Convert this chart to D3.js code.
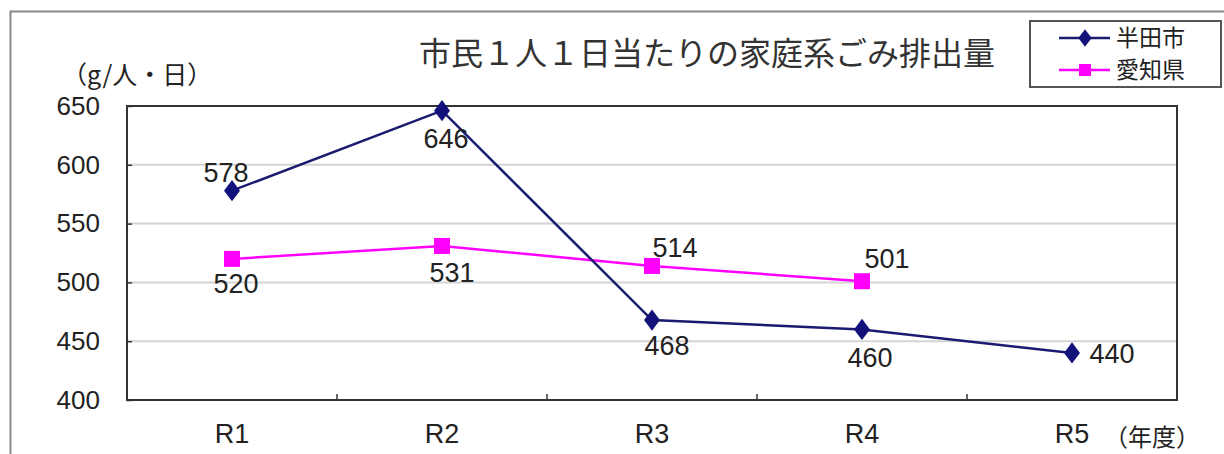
<!DOCTYPE html>
<html>
<head>
<meta charset="utf-8">
<script src="https://cdn.jsdelivr.net/npm/d3@7"></script>
<style>
  body { margin: 0; background: #fff; }
  text { font-family: "Liberation Sans", Arial, sans-serif; }
  .jp { font-family: "Noto Sans CJK JP", sans-serif; }
</style>
</head>
<body>
<div id="chart"></div>
<script>
    var categories = ['R1', 'R2', 'R3', 'R4', 'R5'];
    var handaValues = [578, 646, 468, 460, 440];
    var aichiValues = [520, 531, 514, 501, null];
    var yTicks = [400, 450, 500, 550, 600, 650];
    var seriesNames = ['半田市', '愛知県'];

    var width = 1224,
        height = 454,
        plot = {left: 127, right: 1177, top: 106, bottom: 400};

    var svg = d3.select('#chart').append('svg')
        .attr('width', width).attr('height', height);

    // outer frame
    svg.append('rect')
        .attr('x', 10.5).attr('y', 11.5)
        .attr('width', 1230).attr('height', 460)
        .attr('fill', 'none').attr('stroke', '#888').attr('stroke-width', 2);

    var x = d3.scaleBand().domain(categories).range([plot.left, plot.right]);
    var y = d3.scaleLinear().domain([400, 650]).range([plot.bottom, plot.top]);

    // gridlines
    svg.append('g').selectAll('line').data(yTicks.slice(1, -1)).enter().append('line')
        .attr('x1', plot.left).attr('x2', plot.right)
        .attr('y1', function (d) { return y(d); }).attr('y2', function (d) { return y(d); })
        .attr('stroke', '#d4d4d4').attr('stroke-width', 2);

    // plot border
    svg.append('rect')
        .attr('x', plot.left).attr('y', plot.top)
        .attr('width', plot.right - plot.left).attr('height', plot.bottom - plot.top)
        .attr('fill', 'none').attr('stroke', '#333').attr('stroke-width', 2);

    // y axis labels
    var yAxis = d3.axisLeft(y).tickValues(yTicks).tickSize(0).tickPadding(27);
    var gy = svg.append('g').attr('transform', 'translate(' + plot.left + ',0)').call(yAxis);
    gy.select('.domain').remove();
    gy.selectAll('text').attr('font-size', 26).attr('fill', '#222')
        .style('font-family', '"Liberation Sans", Arial, sans-serif');
    gy.selectAll('.tick').append('line')
        .attr('x1', 0).attr('x2', 5).attr('stroke', '#333').attr('stroke-width', 1.5);

    // x axis: ticks between categories
    var xAxis = d3.axisBottom(x).tickSize(0).tickPadding(24);
    var gx = svg.append('g').attr('transform', 'translate(0,' + plot.bottom + ')').call(xAxis);
    gx.select('.domain').remove();
    gx.selectAll('text').attr('font-size', 27).attr('fill', '#222')
        .style('font-family', '"Liberation Sans", Arial, sans-serif');
    svg.append('g').selectAll('line').data(categories.slice(1)).enter().append('line')
        .attr('x1', function (d) { return x(d); }).attr('x2', function (d) { return x(d); })
        .attr('y1', plot.bottom - 6).attr('y2', plot.bottom)
        .attr('stroke', '#333').attr('stroke-width', 1.5);

    var cx = function (i) { return x(categories[i]) + x.bandwidth() / 2; };

    // lines
    var line = d3.line()
        .defined(function (d) { return d !== null; })
        .x(function (d, i) { return cx(i); })
        .y(function (d) { return y(d); });

    svg.append('path').datum(aichiValues)
        .attr('d', line).attr('fill', 'none')
        .attr('stroke', '#ff00ff').attr('stroke-width', 2.5);
    svg.append('path').datum(handaValues)
        .attr('d', line).attr('fill', 'none')
        .attr('stroke', '#1a1a70').attr('stroke-width', 2.5);

    // markers
    var diamond = d3.symbol().type(d3.symbolDiamond).size(130);
    svg.append('g').selectAll('path').data(handaValues).enter().append('path')
        .attr('d', diamond)
        .attr('transform', function (d, i) { return 'translate(' + cx(i) + ',' + y(d) + ') scale(1.3,1)'; })
        .attr('fill', '#12127a');
    svg.append('g').selectAll('rect').data(aichiValues.filter(function (d) { return d !== null; }))
        .enter().append('rect')
        .attr('x', function (d, i) { return cx(i) - 8; })
        .attr('y', function (d) { return y(d) - 8; })
        .attr('width', 16).attr('height', 16)
        .attr('fill', '#ff00ff');

    // value labels: [dx, dy] offsets from the marker
    var handaOffsets = [[-6, -9], [4, 37], [15, 35], [8, 38], [40, 10]];
    var aichiOffsets = [[4, 34], [10, 36], [23, -9], [25, -13]];

    svg.append('g').selectAll('text').data(handaValues).enter().append('text')
        .attr('x', function (d, i) { return cx(i) + handaOffsets[i][0]; })
        .attr('y', function (d, i) { return y(d) + handaOffsets[i][1]; })
        .attr('text-anchor', 'middle').attr('font-size', 27).attr('fill', '#222')
        .text(function (d) { return d; });
    svg.append('g').selectAll('text').data(aichiValues.filter(function (d) { return d !== null; }))
        .enter().append('text')
        .attr('x', function (d, i) { return cx(i) + aichiOffsets[i][0]; })
        .attr('y', function (d, i) { return y(d) + aichiOffsets[i][1]; })
        .attr('text-anchor', 'middle').attr('font-size', 27).attr('fill', '#222')
        .text(function (d) { return d; });

    // title and unit labels
    svg.append('text').attr('class', 'jp')
        .attr('x', 707).attr('y', 65).attr('text-anchor', 'middle')
        .attr('font-size', 32).attr('fill', '#333')
        .text('市民１人１日当たりの家庭系ごみ排出量');
    svg.append('text').attr('class', 'jp')
        .attr('x', 62).attr('y', 84)
        .attr('font-size', 25).attr('fill', '#222')
        .text('（g/人・日）');
    svg.append('text').attr('class', 'jp')
        .attr('x', 1104).attr('y', 446)
        .attr('font-size', 24).attr('fill', '#222')
        .text('（年度）');

    // legend
    var legend = svg.append('g');
    legend.append('rect')
        .attr('x', 1030).attr('y', 21).attr('width', 191).attr('height', 66)
        .attr('fill', '#fff').attr('stroke', '#555').attr('stroke-width', 2);
    var legendColors = ['#1a1a70', '#ff00ff'];
    var legendY = [38, 70];
    seriesNames.forEach(function (name, i) {
        legend.append('line')
            .attr('x1', 1059).attr('x2', 1110)
            .attr('y1', legendY[i]).attr('y2', legendY[i])
            .attr('stroke', legendColors[i]).attr('stroke-width', 2.5);
        if (i === 0) {
            legend.append('path')
                .attr('d', d3.symbol().type(d3.symbolDiamond).size(90))
                .attr('transform', 'translate(1085,' + legendY[i] + ') scale(1.3,1)')
                .attr('fill', '#12127a');
        } else {
            legend.append('rect')
                .attr('x', 1079).attr('y', legendY[i] - 6).attr('width', 12).attr('height', 12)
                .attr('fill', '#ff00ff');
        }
        legend.append('text').attr('class', 'jp')
            .attr('x', 1116).attr('y', legendY[i] + 8)
            .attr('font-size', 23).attr('fill', '#222')
            .text(name);
    });
</script>
</body>
</html>
